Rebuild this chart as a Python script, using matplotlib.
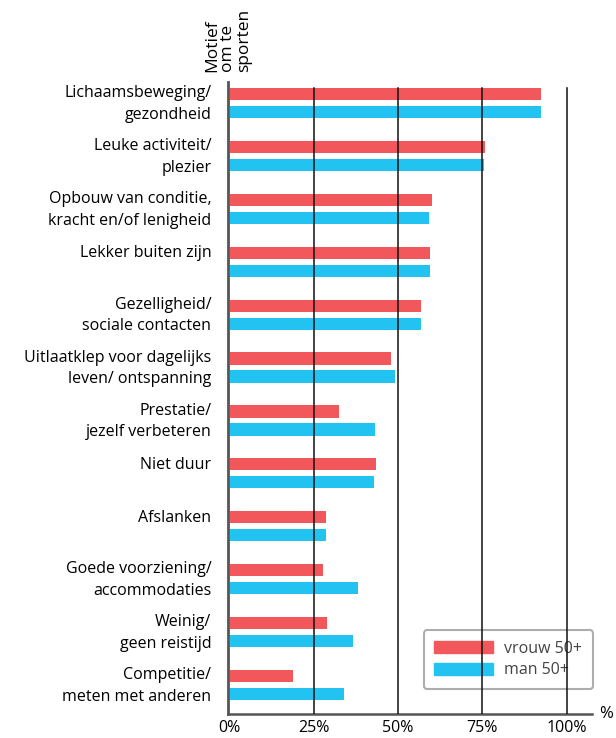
import matplotlib.pyplot as plt
from matplotlib.patches import Patch

# motieven (van boven naar beneden)
labels = [
    "Lichaamsbeweging/\ngezondheid",
    "Leuke activiteit/\nplezier",
    "Opbouw van conditie,\nkracht en/of lenigheid",
    "Lekker buiten zijn",
    "Gezelligheid/\nsociale contacten",
    "Uitlaatklep voor dagelijks\nleven/ ontspanning",
    "Prestatie/\njezelf verbeteren",
    "Niet duur",
    "Afslanken",
    "Goede voorziening/\naccommodaties",
    "Weinig/\ngeen reistijd",
    "Competitie/\nmeten met anderen",
]
vrouw = [92.2, 75.6, 59.8, 59.2, 56.5, 47.6, 32.3, 43.3, 28.3, 27.4, 28.8, 18.6]
man = [92.2, 75.3, 58.9, 59.2, 56.5, 48.9, 43.0, 42.7, 28.3, 37.8, 36.5, 33.8]
ticks = [0, 25, 50, 75, 100]
tick_labels = ["0%", "25%", "50%", "75%", "100%"]

RED = "#F1575B"
BLUE = "#22C3F1"
FONT = "Open Sans"

plt.rcParams["font.family"] = [FONT, "DejaVu Sans"]

fig = plt.figure(figsize=(6.16, 7.38), dpi=100)
ax = fig.add_axes([0.370, 0.0325, 0.591, 0.8565])

y = list(range(len(labels)))
h = 0.23
off = 0.17
ax.barh([i - off for i in y], vrouw, height=h, color=RED, zorder=2, left=0.3)
ax.barh([i + off for i in y], man, height=h, color=BLUE, zorder=2, left=0.3)

ax.set_ylim(11.55, -0.4)
ax.set_xlim(-0.4, 107.5)

# rasterlijnen boven de balken
for t in ticks[1:]:
    ax.axvline(t, ymin=0, ymax=0.99, color="#111111", lw=1.1, zorder=6)

ax.spines[["top", "right"]].set_visible(False)
ax.spines["left"].set_color("#555555")
ax.spines["left"].set_linewidth(2)
ax.spines["bottom"].set_color("#555555")
ax.spines["bottom"].set_linewidth(1.8)

ax.set_xticks(ticks)
ax.set_xticklabels(tick_labels, fontsize=11.5)
ax.tick_params(axis="x", length=0, pad=4)

# eenregelige labels staan naast de bovenste balk
label_pos = [i - 0.07 if "\n" in lab else i - 0.2 for i, lab in zip(y, labels)]
ax.set_yticks(label_pos)
ax.set_yticklabels(labels, fontsize=11.5, linespacing=1.45)
ax.tick_params(axis="y", length=0, pad=12)

ax.text(1.04, -0.012, "%", transform=ax.transAxes, fontsize=12,
        ha="center", va="bottom")

fig.text(0.331, 0.903, "Motief\nom te\nsporten", rotation=90,
         fontsize=12.5, ha="left", va="bottom", multialignment="left",
         linespacing=1.0)

handles = [Patch(color=RED, label="vrouw 50+"), Patch(color=BLUE, label="man 50+")]
leg = ax.legend(handles=handles, loc="lower right", bbox_to_anchor=(1.002, 0.04),
                borderaxespad=0, fontsize=11.5, handlelength=3.7, handleheight=0.75,
                labelcolor="#444444", frameon=True, fancybox=True,
                borderpad=0.65, labelspacing=0.35, handletextpad=0.7)
leg.get_frame().set_edgecolor("#999999")
leg.get_frame().set_linewidth(1.5)
leg.get_frame().set_facecolor("none")
leg.set_zorder(4)

plt.savefig("out.png", dpi=100)
